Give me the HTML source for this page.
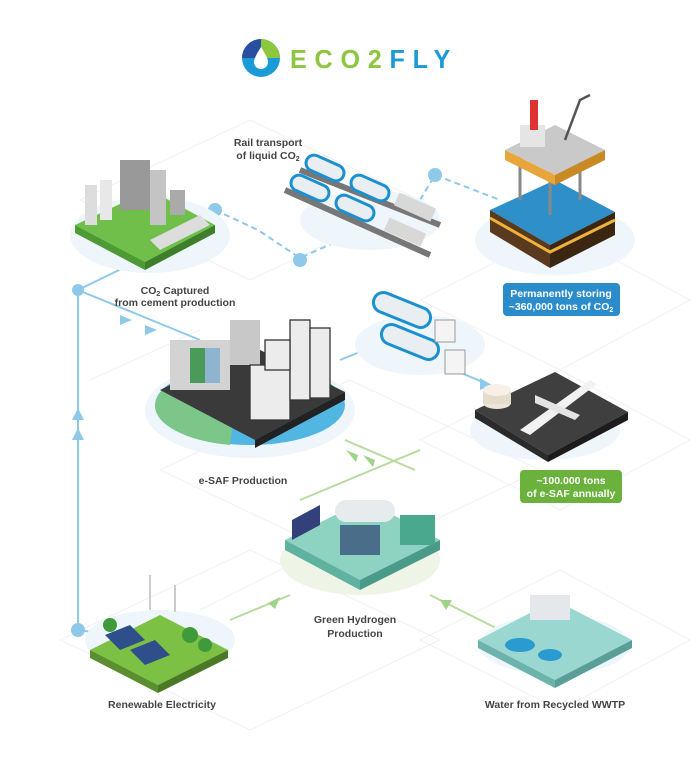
<!DOCTYPE html>
<html><head><meta charset="utf-8"><style>
html,body{margin:0;padding:0;background:#fff;}
svg{display:block;font-family:"Liberation Sans",sans-serif;}
.lb{font-weight:bold;font-size:10.5px;fill:#444;text-anchor:middle;}
.wb{font-weight:bold;font-size:10.5px;fill:#fff;text-anchor:middle;}
</style></head><body>
<svg width="700" height="771" viewBox="0 0 700 771">
<g stroke="#eef1f4" stroke-width="1" fill="none">
<path d="M80 200 L250 120 L420 200 L250 280 Z"/>
<path d="M160 470 L350 380 L540 470 L350 560 Z"/>
<path d="M60 640 L250 550 L440 640 L250 730 Z"/>
<path d="M420 640 L560 570 L690 640 L560 710 Z"/>
<path d="M420 300 L560 230 L690 300 L560 370 Z"/>
<path d="M420 440 L560 370 L690 440 L560 510 Z"/>
<path d="M90 380 L200 330"/><path d="M300 560 L200 610"/>
</g>
<circle cx="261" cy="58" r="19" fill="#1a9ad6"/>
<path d="M261 39 A19 19 0 0 1 280 58 L261 58 Z" fill="#8dc63f"/>
<path d="M242 58 A19 19 0 0 1 261 39 L261 58 Z" fill="#2b4fa0"/>
<path d="M261 47 C256 55 254 59 254 62 A7 7 0 0 0 268 62 C268 59 266 55 261 47 Z" fill="#fff"/>
<text x="290" y="68" font-size="26" font-weight="bold" letter-spacing="8" fill="#8dc63f" transform="scale(1 1)" textLength="168" lengthAdjust="spacingAndGlyphs">ECO2<tspan fill="#1a9ad6">FLY</tspan></text>

<g stroke="#8fc9ea" stroke-width="2" fill="none">
<line x1="78" y1="290" x2="78" y2="630"/>
<path d="M78 630 L92 632"/>
<path d="M78 290 L160 250 L215 210"/>
<path d="M78 290 L200 340"/>
<path d="M215 210 L258 230 L300 258 L340 240" stroke-dasharray="6 4"/>
<path d="M420 200 L435 175 L500 200" stroke-dasharray="6 4"/>
<path d="M340 360 L390 340"/>
<path d="M430 360 L490 385"/>
</g>
<g fill="#8fc9ea">
<circle cx="78" cy="290" r="6"/><circle cx="78" cy="630" r="7"/>
<circle cx="215" cy="210" r="7"/><circle cx="300" cy="260" r="7"/><circle cx="435" cy="175" r="7"/>
<path d="M72 440 L78 428 L84 440Z"/><path d="M72 420 L78 408 L84 420Z"/>
<path d="M120 315 L132 320 L120 325Z"/><path d="M145 325 L157 330 L145 335Z"/>
<path d="M480 378 L492 385 L480 390Z"/>
</g>
<g stroke="#b7dba0" stroke-width="2" fill="none">
<path d="M230 620 L290 595"/><path d="M300 500 L420 450"/>
<path d="M500 630 L430 595"/><path d="M345 440 L415 470"/>
</g>
<g fill="#9fd28a"><path d="M268 603 L280 597 L275 609Z"/><path d="M358 455 L346 450 L356 462Z"/><path d="M375 460 L363 455 L373 467Z"/><path d="M440 600 L452 600 L446 610Z"/></g>

<ellipse cx="150" cy="235" rx="80" ry="38" fill="#eef6fb"/>
<ellipse cx="370" cy="220" rx="70" ry="30" fill="#eef6fb"/>
<ellipse cx="555" cy="240" rx="80" ry="35" fill="#eef6fb"/>
<ellipse cx="420" cy="345" rx="65" ry="30" fill="#eef6fb"/>
<ellipse cx="250" cy="410" rx="105" ry="48" fill="#eef6fb"/>
<ellipse cx="250" cy="405" rx="95" ry="40" fill="#52b6e3"/>
<path d="M155 405 A95 40 0 0 1 240 366 L230 445 A95 40 0 0 1 155 405Z" fill="#7cc68a"/>
<ellipse cx="545" cy="430" rx="75" ry="30" fill="#eef6fb"/>
<ellipse cx="360" cy="560" rx="80" ry="35" fill="#eef4e6"/>
<ellipse cx="160" cy="640" rx="75" ry="30" fill="#eef6fb"/>
<ellipse cx="555" cy="645" rx="75" ry="30" fill="#eef6fb"/>

<path d="M75 225 L150 190 L215 225 L145 262 Z" fill="#6fbf4a"/>
<path d="M75 225 L145 262 L145 270 L75 233Z" fill="#4e9a35"/>
<path d="M145 262 L215 225 L215 233 L145 270Z" fill="#3d7f2a"/>
<rect x="85" y="185" width="12" height="40" fill="#ddd"/><rect x="100" y="180" width="12" height="40" fill="#e8e8e8"/>
<rect x="120" y="160" width="30" height="50" fill="#999"/><rect x="150" y="170" width="16" height="55" fill="#c4c4c4"/>
<rect x="170" y="190" width="15" height="25" fill="#aaa"/><path d="M150 240 L200 215 L210 225 L160 250Z" fill="#ddd"/>

<g>
<path d="M285 190 L430 255" stroke="#777" stroke-width="6"/>
<path d="M300 170 L440 225" stroke="#777" stroke-width="6"/>
<g fill="#e9eef2" stroke="#1b90d0" stroke-width="3">
<rect x="290" y="180" width="40" height="16" rx="8" transform="rotate(24 310 188)"/>
<rect x="335" y="200" width="40" height="16" rx="8" transform="rotate(24 355 208)"/>
<rect x="305" y="160" width="40" height="16" rx="8" transform="rotate(24 325 168)"/>
<rect x="350" y="180" width="40" height="16" rx="8" transform="rotate(24 370 188)"/>
</g>
<rect x="385" y="225" width="40" height="14" fill="#d8d8d8" transform="rotate(24 405 232)"/>
<rect x="395" y="200" width="40" height="14" fill="#d8d8d8" transform="rotate(24 415 207)"/>
</g>
<text class="lb" x="268" y="146">Rail transport</text>
<text class="lb" x="268" y="159">of liquid CO<tspan font-size="7" dy="2">2</tspan></text>

<!-- oil rig -->
<path d="M490 210 L555 180 L615 212 L550 245Z" fill="#2e8fc9"/>
<path d="M490 210 L550 245 L550 268 L490 232Z" fill="#5a3a1e"/>
<path d="M550 245 L615 212 L615 235 L550 268Z" fill="#3b2612"/>
<path d="M490 218 L550 252 L615 220" stroke="#f0b23a" stroke-width="3" fill="none"/>
<g stroke="#888" stroke-width="3"><line x1="520" y1="200" x2="520" y2="150"/><line x1="580" y1="200" x2="580" y2="150"/><line x1="550" y1="215" x2="550" y2="165"/></g>
<path d="M505 150 L555 125 L605 150 L555 175Z" fill="#c9c9c9"/>
<path d="M505 150 L555 175 L555 185 L505 160Z" fill="#e8a53a"/>
<path d="M555 175 L605 150 L605 160 L555 185Z" fill="#c98a25"/>
<rect x="520" y="125" width="25" height="22" fill="#e5e5e5"/>
<rect x="530" y="100" width="8" height="30" fill="#d33"/>
<path d="M565 140 L580 100 L590 95" stroke="#555" stroke-width="2.5" fill="none"/>
<rect x="503" y="283" width="117" height="33" rx="4" fill="#2b8ccb"/>
<text class="wb" x="561" y="297">Permanently storing</text>
<text class="wb" x="561" y="310">~360,000 tons of CO<tspan font-size="7" dy="2">2</tspan></text>

<g fill="#e9eef2" stroke="#1b90d0" stroke-width="3">
<rect x="372" y="300" width="60" height="20" rx="10" transform="rotate(22 402 310)"/>
<rect x="380" y="332" width="60" height="20" rx="10" transform="rotate(22 410 342)"/>
</g>
<rect x="435" y="320" width="20" height="22" fill="#f4f4f4" stroke="#999"/>
<rect x="445" y="350" width="20" height="24" fill="#f4f4f4" stroke="#999"/>

<path d="M160 390 L250 345 L345 392 L255 440Z" fill="#3a3a3a"/>
<path d="M255 440 L345 392 L345 400 L255 448Z" fill="#222"/>
<rect x="170" y="340" width="60" height="50" fill="#d3d3d3"/>
<rect x="190" y="348" width="15" height="35" fill="#4a9a5a"/>
<rect x="205" y="348" width="15" height="35" fill="#8fb4cf"/>
<rect x="230" y="320" width="30" height="45" fill="#c8c8c8"/>
<g fill="#ececec" stroke="#333" stroke-width="1.3">
<rect x="250" y="365" width="40" height="55"/>
<rect x="290" y="320" width="20" height="80"/>
<rect x="310" y="328" width="20" height="70"/>
<rect x="265" y="340" width="25" height="30"/>
</g>
<text class="lb" x="243" y="484">e-SAF Production</text>
<text class="lb" x="175" y="294">CO<tspan font-size="7" dy="2">2</tspan><tspan dy="-2"> Captured</tspan></text>
<text class="lb" x="175" y="306">from cement production</text>

<path d="M475 410 L555 372 L628 412 L548 455Z" fill="#3f3f3f"/>
<path d="M475 410 L548 455 L548 462 L475 418Z" fill="#2a2a2a"/>
<path d="M548 455 L628 412 L628 420 L548 462Z" fill="#1c1c1c"/>
<ellipse cx="497" cy="403" rx="14" ry="6" fill="#eee5d8"/><rect x="483" y="390" width="28" height="14" fill="#e7dccc"/><ellipse cx="497" cy="390" rx="14" ry="6" fill="#f6f0e6"/>
<path d="M520 430 L590 380 L597 384 L530 435Z" fill="#f2f2f2"/>
<path d="M535 395 L580 415 L575 420 L535 403Z" fill="#e4e4e4"/>
<rect x="520" y="470" width="102" height="33" rx="4" fill="#6ab23c"/>
<text class="wb" x="571" y="484">~100.000 tons</text>
<text class="wb" x="571" y="497">of e-SAF annually</text>

<path d="M285 540 L365 500 L440 540 L360 580Z" fill="#8ed3c2"/>
<path d="M285 540 L360 580 L360 590 L285 550Z" fill="#5fb2a0"/>
<path d="M360 580 L440 540 L440 550 L360 590Z" fill="#4a9a88"/>
<path d="M292 520 L320 505 L320 525 L292 540Z" fill="#33407a"/>
<rect x="335" y="500" width="60" height="22" rx="11" fill="#e6ebee"/>
<rect x="340" y="525" width="40" height="30" fill="#4a6e8a"/>
<rect x="400" y="515" width="35" height="30" fill="#4aa88e"/>
<text class="lb" x="355" y="623">Green Hydrogen</text>
<text class="lb" x="355" y="637">Production</text>

<path d="M90 650 L160 615 L228 650 L158 685Z" fill="#7cc144"/>
<path d="M90 650 L158 685 L158 693 L90 658Z" fill="#5a8f2f"/>
<path d="M158 685 L228 650 L228 658 L158 693Z" fill="#4a7a25"/>
<g fill="#2e4f8a"><path d="M105 635 L130 625 L145 640 L120 650Z"/><path d="M130 650 L155 640 L170 655 L145 665Z"/></g>
<g stroke="#ccc" stroke-width="2"><line x1="150" y1="610" x2="150" y2="575"/><line x1="175" y1="612" x2="175" y2="585"/></g>
<g fill="#3f9a3a"><circle cx="190" cy="635" r="8"/><circle cx="205" cy="645" r="7"/><circle cx="110" cy="625" r="7"/></g>
<text class="lb" x="162" y="708">Renewable Electricity</text>

<path d="M478 640 L555 600 L632 640 L555 680Z" fill="#9ad7d0"/>
<path d="M478 640 L555 680 L555 688 L478 648Z" fill="#6bb3ab"/>
<path d="M555 680 L632 640 L632 648 L555 688Z" fill="#5a9f97"/>
<rect x="530" y="595" width="40" height="25" fill="#e4e8ec"/>
<ellipse cx="520" cy="645" rx="15" ry="7" fill="#2a9bd0"/><ellipse cx="550" cy="655" rx="12" ry="6" fill="#2a9bd0"/>
<text class="lb" x="555" y="708">Water from Recycled WWTP</text>
</svg>
</body></html>
